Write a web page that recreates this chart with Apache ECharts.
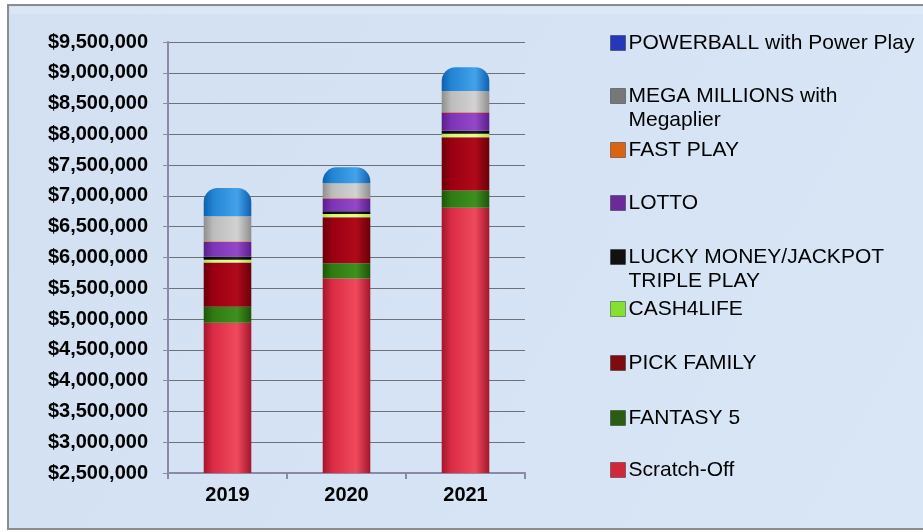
<!DOCTYPE html>
<html>
<head>
<meta charset="utf-8">
<script src="https://cdn.jsdelivr.net/npm/echarts@6/dist/echarts.min.js"></script>
<style>
  html, body { margin: 0; padding: 0; background: #fff; }
  #main { width: 923px; height: 532px; }
</style>
</head>
<body>
<div id="main"></div>
<script>
// data
var years = ['2019', '2020', '2021']
var scratchOff = [4940000, 5660000, 6810000]
var fantasy5 = [260000, 245000, 280000]
var pickFamily = [720000, 750000, 865000]
var cash4Life = [45000, 50000, 55000]
var luckyMoney = [50000, 45000, 50000]
var lotto = [235000, 210000, 290000]
var fastPlay = [15000, 15000, 15000]
var megaMillions = [405000, 230000, 340000]
var powerball = [460000, 260000, 385000]

// bottom to top of the stack
var seriesNames = ['Scratch-Off', 'FANTASY 5', 'PICK FAMILY', 'CASH4LIFE',
  'LUCKY MONEY/JACKPOT TRIPLE PLAY', 'LOTTO', 'FAST PLAY',
  'MEGA MILLIONS with Megaplier', 'POWERBALL with Power Play']
var seriesData = [scratchOff, fantasy5, pickFamily, cash4Life, luckyMoney,
  lotto, fastPlay, megaMillions, powerball]

// [edge, middle, highlight] for the cylinder look, plus legend swatch
var shades = [
  ['#a3162c', '#db2b45', '#f04a5c', '#d02838'],
  ['#1d5508', '#2f7b12', '#3f901f', '#2b5c12'],
  ['#6a0008', '#9a0012', '#b00a1a', '#7e0a12'],
  ['#b4e048', '#d4fa6c', '#e6ff8c', '#86e034'],
  ['#000000', '#0c0c0c', '#1e1e1e', '#111111'],
  ['#5a1e8a', '#7c35b6', '#9448c8', '#6a2a98'],
  ['#c45010', '#ee7630', '#ff9050', '#d86414'],
  ['#8e8e8e', '#bcbcbc', '#d2d2d2', '#777777'],
  ['#0f5fae', '#2484d4', '#44a2ea', '#2438b8']
]

function cylinder (s) {
  return new echarts.graphic.LinearGradient(0, 0, 1, 0, [
    { offset: 0, color: s[0] },
    { offset: 0.2, color: s[1] },
    { offset: 0.7, color: s[2] },
    { offset: 1, color: s[0] }
  ])
}

var series = seriesNames.map(function (name, i) {
  return {
    name: name,
    type: 'bar',
    stack: 'total',
    barWidth: '40%',
    data: seriesData[i],
    itemStyle: {
      color: cylinder(shades[i]),
      borderRadius: i === seriesNames.length - 1 ? [14, 14, 0, 0] : 0
    }
  }
})

// legend: one block per entry so the wrapped ones line up like the original
var legendCenters = [43, 96, 150, 203, 257, 309, 363, 418, 470]
// a blank first line keeps the swatch level with the first text line
var wrapped = {
  'MEGA MILLIONS with Megaplier': ' \nMEGA MILLIONS with\nMegaplier',
  'LUCKY MONEY/JACKPOT TRIPLE PLAY': ' \nLUCKY MONEY/JACKPOT\nTRIPLE PLAY'
}
var lineH = 24
var legends = []
for (var k = 0; k < seriesNames.length; k++) {
  var idx = seriesNames.length - 1 - k
  var name = seriesNames[idx]
  var twoLine = !!wrapped[name]
  legends.push({
    orient: 'vertical',
    left: 610,
    top: legendCenters[k] - (twoLine ? lineH * 1.5 : lineH / 2),
    padding: 0,
    itemWidth: 15,
    itemHeight: 15,
    itemGap: 0,
    icon: 'rect',
    data: [{ name: name, itemStyle: { color: shades[idx][3], borderColor: 'rgba(0,0,0,0.35)', borderWidth: 1 } }],
    formatter: function (n) { return wrapped[n] || n },
    textStyle: {
      fontFamily: 'Liberation Sans, Arial, sans-serif',
      fontSize: 21,
      color: '#000',
      lineHeight: lineH,
      padding: [0, 0, 0, -2]
    }
  })
}

var option = {
  animation: false,
  backgroundColor: '#ffffff',
  graphic: [
    {
      type: 'rect',
      z: -10,
      shape: { x: 8, y: 5, width: 930, height: 524 },
      style: {
        fill: new echarts.graphic.LinearGradient(0, 0, 1, 1, [
          { offset: 0, color: '#d2e0f2' },
          { offset: 1, color: '#d8e6f6' }
        ]),
        stroke: '#8c8c8c',
        lineWidth: 2
      }
    },
    {
      type: 'rect',
      z: -9,
      shape: { x: 10, y: 7, width: 930, height: 7 },
      style: { fill: 'rgba(255,255,255,0.2)' }
    }
  ],
  legend: legends,
  grid: {
    left: 168,
    right: 398,
    top: 42,
    bottom: 59
  },
  xAxis: {
    type: 'category',
    data: years,
    axisLine: { lineStyle: { color: '#8a8aa8', width: 2 } },
    axisTick: { show: true, length: 6, lineStyle: { color: '#8a8aa8', width: 2 } },
    axisLabel: {
      fontFamily: 'Liberation Sans, Arial, sans-serif',
      fontSize: 20,
      fontWeight: 'bold',
      color: '#000',
      margin: 12
    }
  },
  yAxis: {
    type: 'value',
    min: 2500000,
    max: 9500000,
    interval: 500000,
    axisLine: { show: true, lineStyle: { color: '#8a8aa8', width: 2 } },
    axisTick: { show: true, length: 5, lineStyle: { color: '#8a8aa8', width: 1 } },
    splitLine: { lineStyle: { color: '#707078', width: 1 } },
    axisLabel: {
      fontFamily: 'Liberation Sans, Arial, sans-serif',
      fontSize: 20,
      fontWeight: 'bold',
      color: '#000',
      margin: 20,
      formatter: function (v) { return '$' + v.toLocaleString('en-US') }
    }
  },
  series: series
}

var myChart = echarts.init(document.getElementById('main'))
myChart.setOption(option)
window.addEventListener('resize', function () {
  myChart.resize()
})
</script>
</body>
</html>
